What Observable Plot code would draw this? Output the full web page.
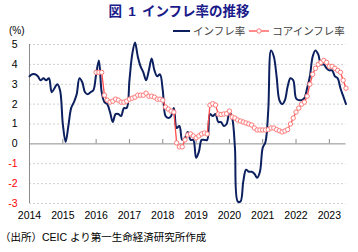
<!DOCTYPE html>
<html><head><meta charset="utf-8">
<script src="https://cdn.jsdelivr.net/npm/d3@7"></script>
<script src="https://cdn.jsdelivr.net/npm/@observablehq/plot@0.6"></script>
<style>
html,body{margin:0;padding:0;background:#fff;}
#wrap{position:relative;width:358px;height:252px;font-family:"Liberation Sans","Noto Sans CJK JP",sans-serif;}
#wrap svg{position:absolute;left:0;top:0;}
.ov{position:absolute;white-space:nowrap;line-height:1;}
#title{left:0;width:358px;text-align:center;top:5px;font-size:13.5px;font-weight:bold;color:#1a1a8a;word-spacing:2.5px;}
#unit{left:9px;top:26px;font-size:10px;color:#000;}
#legend{left:172px;top:26px;font-size:10.5px;color:#404040;display:flex;align-items:center;}
#legend svg{position:static;}
#caption{left:0;top:232px;font-size:10.5px;color:#000;}
</style>
</head><body>
<div id="wrap">
  <div id="chart"></div>
  <div class="ov" id="title">図 1 インフレ率の推移</div>
  <div class="ov" id="unit">(%)</div>
  <div class="ov" id="legend">
    <svg width="19" height="10"><line x1="1" y1="5" x2="18" y2="5" stroke="#0c1f5e" stroke-width="2"/></svg>
    <span style="margin-left:2px">インフレ率</span>
    <svg width="22" height="10" style="margin-left:3px"><line x1="1" y1="5" x2="21" y2="5" stroke="#ff4d4d" stroke-width="1.3"/><circle cx="11" cy="5" r="2.2" fill="#fff" stroke="#ff7a7a"/></svg>
    <span style="margin-left:2px">コアインフレ率</span>
  </div>
  <div class="ov" id="caption">（出所）CEIC より第一生命経済研究所作成</div>
</div>
<script>
const startYear = 2014;
const inflation = [
  3.4, 3.5, 3.5, 3.4, 3.2, 3.3, 3.2, 3.3, 2.6, 2.8, 3.0, 2.7,
  1.0, 0.1, 0.9, 1.8, 2.1, 2.5, 3.3, 3.1, 2.6, 2.5, 2.6, 2.7,
  3.5, 4.2, 2.6, 2.1, 2.0, 1.6, 1.1, 1.5, 1.5, 1.4, 1.8, 1.8,
  3.2, 4.5, 5.1, 4.4, 3.9, 3.6, 3.2, 3.7, 4.3, 3.7, 3.4, 3.5,
  2.7, 1.4, 1.3, 1.4, 1.8, 0.8, 0.9, 0.2, 0.3, 0.6, 0.2, 0.2,
  -0.7, -0.4, 0.2, 0.2, 0.2, 1.5, 1.4, 1.5, 1.1, 1.1, 0.9, 1.0,
  1.6, 1.3, -0.2, -2.9, -2.9, -1.9, -1.3, -1.4, -1.4, -1.5, -1.7, -1.4,
  -0.2, 0.1, 1.7, 4.7, 4.4, 3.4, 2.2, 2.0, 2.2, 2.9, 3.3, 3.2,
  2.3, 2.2, 2.2, 2.3, 2.8, 3.4, 4.4, 4.7, 4.5, 4.0, 4.0, 3.8,
  3.7, 3.7, 3.4, 3.3, 2.8, 2.4, 2.0
];
const coreStartYear = 2016;
const core = [
  3.6, 3.6, 3.6, 2.45, 2.2, 2.1, 2.15, 2.25, 2.2, 2.1, 2.1, 2.15,
  2.25, 2.3, 2.35, 2.45, 2.45, 2.45, 2.55, 2.4, 2.4, 2.35, 2.25, 2.25,
  2.2, 1.85, 1.75, 1.65, 1.6, 0.05, -0.15, -0.15, 0.2, 0.45, 0.5, 0.4,
  0.3, 0.4, 0.5, 0.55, 0.5, 1.95, 2.02, 1.95, 1.5, 1.48, 1.5, 1.52,
  1.65, 1.35, 1.3, 1.2, 1.15, 1.1, 1.05, 1.0, 0.95, 0.8, 0.7, 0.7,
  0.7, 0.7, 0.72, 0.8, 0.8, 0.72, 0.66, 0.6, 0.65, 0.72, 1.0, 1.3,
  1.6, 1.8, 2.0, 2.1, 2.4, 3.0, 3.5, 3.8, 4.0, 4.1, 4.2, 4.1,
  3.9, 3.9, 3.8, 3.7, 3.6, 3.2, 2.8
];
const yearTicks = [2014, 2015, 2016, 2017, 2018, 2019, 2020, 2021, 2022, 2023];
const yTicks = [-3, -2, -1, 0, 1, 2, 3, 4, 5];

const headRows = inflation.map((v, i) => ({t: startYear + i / 12, v}));
const coreRows = core.map((v, i) => ({t: coreStartYear + i / 12, v}));
const lastT = startYear + (inflation.length - 1) / 12;

const chart = Plot.plot({
  width: 358,
  height: 252,
  marginTop: 44,
  marginBottom: 49,
  marginLeft: 29,
  marginRight: 12.5,
  x: {domain: [startYear, lastT], axis: null},
  y: {domain: [-3, 5], axis: null},
  style: {fontFamily: '"Liberation Sans","Noto Sans CJK JP",sans-serif', fontSize: "10.5px", background: "transparent"},
  marks: [
    Plot.ruleY(yTicks.filter(d => d !== 0), {y: d => d, stroke: "#cfcfcf", strokeDasharray: "2,2"}),
    Plot.ruleY([0], {stroke: "#8c8c8c"}),
    Plot.ruleX([startYear], {stroke: "#8c8c8c"}),
    Plot.ruleX(yearTicks.slice(1), {x: d => d, y1: 0, y2: 0.22, stroke: "#8c8c8c"}),
    Plot.text(yTicks.filter(d => d >= 0), {y: d => d, text: d => String(d), frameAnchor: "left", dx: -12, textAnchor: "end", fill: "#000"}),
    Plot.text(yTicks.filter(d => d < 0), {y: d => d, text: d => String(d), frameAnchor: "left", dx: -12, textAnchor: "end", fill: "#ff0000"}),
    Plot.text(yearTicks, {x: d => d, text: d => String(d), frameAnchor: "bottom", dy: 15.5, fill: "#000"}),
    Plot.line(headRows, {x: "t", y: "v", stroke: "#0c1f5e", strokeWidth: 2, curve: "catmull-rom"}),
    Plot.line(coreRows, {x: "t", y: "v", stroke: "#ff4d4d", strokeWidth: 1.3}),
    Plot.dot(coreRows, {x: "t", y: "v", r: 2.2, fill: "#fff", stroke: "#ff7a7a", strokeWidth: 1})
  ]
});
document.getElementById("chart").appendChild(chart);
</script>
</body></html>
